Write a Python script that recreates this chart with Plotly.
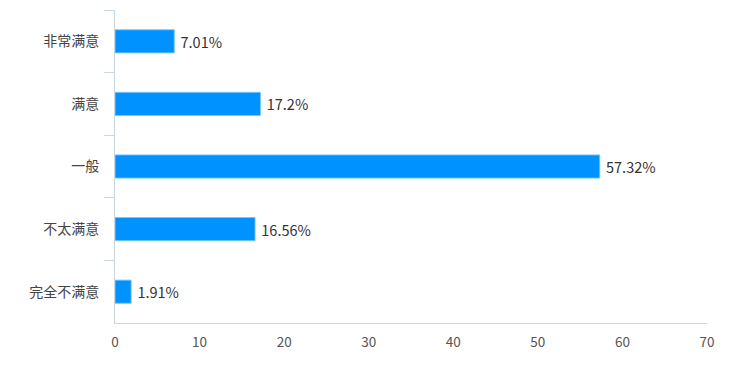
import plotly.graph_objects as go

categories = ["非常满意", "满意", "一般", "不太满意", "完全不满意"]
values = [7.01, 17.2, 57.32, 16.56, 1.91]
x_ticks = [0, 10, 20, 30, 40, 50, 60, 70]

font_family = "Noto Sans CJK SC, Microsoft YaHei, sans-serif"

fig = go.Figure(
    go.Bar(
        y=categories,
        x=values,
        orientation="h",
        width=0.37,
        marker=dict(color="rgb(0,146,255)", line=dict(color="rgba(120,200,255,0.9)", width=1)),
        texttemplate=" %{x}%",
        textposition="outside",
        textfont=dict(size=14.5, color="#333333", family=font_family),
        cliponaxis=False,
        hoverinfo="skip",
    )
)

fig.update_layout(
    width=743,
    height=361,
    margin=dict(l=107, r=44, t=2, b=46, autoexpand=False),
    paper_bgcolor="white",
    plot_bgcolor="white",
    showlegend=False,
    font=dict(family=font_family, size=12, color="#444444"),
    xaxis=dict(
        range=[0, 70],
        tickvals=x_ticks,
        showgrid=False,
        zeroline=False,
        showline=True,
        linecolor="#c9d6e3",
        linewidth=1,
        ticks="",
        tickfont=dict(size=13.5, color="#555555"),
        ticklabelstandoff=7,
        fixedrange=True,
    ),
    yaxis=dict(
        categoryorder="array",
        categoryarray=categories,
        autorange="reversed",
        showgrid=False,
        zeroline=False,
        showline=True,
        linecolor="#c9d6e3",
        linewidth=1,
        ticks="outside",
        tickson="boundaries",
        ticklen=10,
        tickcolor="#c9d6e3",
        tickfont=dict(size=14, color="#444444"),
        ticklabelstandoff=12,
        fixedrange=True,
    ),
)

fig.write_html("out.html")
